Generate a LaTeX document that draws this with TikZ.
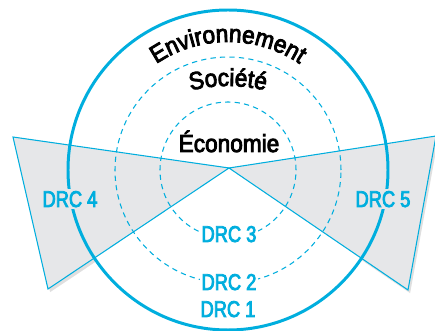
\documentclass[tikz,border=0pt]{standalone}
\usepackage{fontspec}
\setmainfont{Liberation Sans}
\newfontfamily\condfont{Liberation Sans}[FakeStretch=0.8, FakeBold=3.5]
\newfontfamily\pillarfont{Liberation Sans}[FakeStretch=0.92, FakeBold=3.5]
\usetikzlibrary{positioning,decorations.text,shadows}
\definecolor{drccyan}{RGB}{0,174,222}
\definecolor{wedgegray}{RGB}{230,231,233}

\begin{document}
\begin{tikzpicture}[x=0.2mm,y=0.2mm,
    ring/.style={draw=drccyan, line width=0.6pt, dash pattern=on 3pt off 2.4pt},
    wedge/.style={fill=wedgegray, draw=drccyan, line width=0.6pt},
    drc/.style={text=drccyan, font=\condfont\fontsize{13}{15}\selectfont, inner sep=1pt, anchor=base},
    pillar/.style={text=black, font=\pillarfont\fontsize{14}{16}\selectfont}]
  \useasboundingbox (-228,-161) rectangle (207,170);

  \coordinate (apex) at (1,2);
  \coordinate (g1) at (-215,33);
  \coordinate (g2) at (-180,-119);
  \coordinate (d1) at (208,34);
  \coordinate (d2) at (180,-120);

  % shadows, then the white disc, then the wedges
  \fill[wedgegray, drop shadow={shadow xshift=1.2pt, shadow yshift=-1.8pt, opacity=0.25}] (apex) -- (g1) -- (g2) -- cycle;
  \fill[wedgegray, drop shadow={shadow xshift=1.2pt, shadow yshift=-1.8pt, opacity=0.25}] (apex) -- (d1) -- (d2) -- cycle;
  \fill[white] (0,0) circle[radius=160];
  \draw[wedge] (apex) -- (g1) -- (g2) -- cycle;
  \draw[wedge] (apex) -- (d1) -- (d2) -- cycle;

  % rings
  \draw[ring] (0,0) circle[radius=68];
  \draw[ring] (0,0) circle[radius=113];
  \draw[drccyan, line width=1.7pt] (0,0) circle[radius=160];

  % pillars
  \path[decorate, decoration={text along path, text align=center,
      text={|\pillarfont\fontsize{14}{16}\selectfont|Environnement}}]
    (128:128) arc[start angle=128, end angle=52, radius=128];
  \path[decorate, decoration={text along path, text align=center,
      text={|\pillarfont\fontsize{14}{16}\selectfont|Société}}]
    (0,-76) ++(107:160) arc[start angle=107, end angle=73, radius=160];
  \node[pillar, anchor=base] (eco) at (1,18) {Économie};

  % DRC labels
  \node[drc, fill=wedgegray] (drc4) at (-158,-37) {DRC 4};
  \node[drc, fill=wedgegray] (drc5) at (155,-37) {DRC 5};
  \node[drc, fill=white] (drc3) at (1,-72) {DRC 3};
  \node[drc, fill=white] (drc2) at (1,-120) {DRC 2};
  \node[drc] (drc1) at (0,-147) {DRC 1};
\end{tikzpicture}
\end{document}
